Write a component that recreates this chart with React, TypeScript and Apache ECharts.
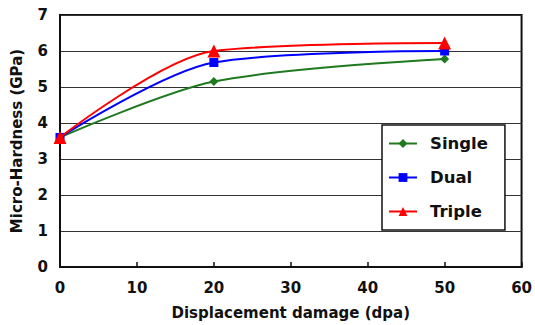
import React, { useEffect, useRef } from "react";
import * as echarts from "echarts";

const xValues = [0, 20, 50];
const singleValues = [3.6, 5.15, 5.78];
const dualValues = [3.6, 5.68, 6.0];
const tripleValues = [3.6, 6.0, 6.22];
const seriesNames = ["Single", "Dual", "Triple"];
const colors = ["#1f7a1f", "#0000ff", "#ff0000"];
const symbols = ["diamond", "rect", "triangle"];
const symbolSizes = [9, 9, 13];

const FONT = "'DejaVu Sans', Verdana, sans-serif";

export default function App() {
  const ref = useRef<HTMLDivElement>(null);
  useEffect(() => {
    if (!ref.current) return;
    const chart = echarts.init(ref.current, undefined, { renderer: "svg" });
    const all = [singleValues, dualValues, tripleValues];
    chart.setOption({
      animation: false,
      backgroundColor: "#fff",
      grid: {
        left: 60,
        top: 15,
        right: 12,
        bottom: 56,
        show: true,
        borderColor: "#111",
        borderWidth: 2,
        backgroundColor: "transparent",
      },
      legend: {
        orient: "vertical",
        left: 382,
        top: 125,
        padding: [10, 17, 10, 6],
        itemGap: 17,
        itemWidth: 28,
        itemHeight: 11,
        borderColor: "#111",
        borderWidth: 1.5,
        borderRadius: 0,
        backgroundColor: "#fff",
        textStyle: {
          fontFamily: FONT,
          fontWeight: "bold",
          fontSize: 16.5,
          color: "#111",
          padding: [0, 0, 0, 8],
          width: 66,
        },
        data: seriesNames,
      },
      xAxis: {
        type: "value",
        min: 0,
        max: 60,
        interval: 10,
        name: "Displacement damage (dpa)",
        nameLocation: "middle",
        nameGap: 38,
        nameTextStyle: { fontFamily: FONT, fontWeight: "bold", fontSize: 15, color: "#111" },
        axisLine: { show: true, lineStyle: { color: "#111", width: 2 } },
        axisTick: { show: true, inside: true, length: 5, lineStyle: { color: "#111", width: 1.5 } },
        axisLabel: { fontFamily: FONT, fontWeight: "bold", fontSize: 15, color: "#111", margin: 13 },
        splitLine: { show: false },
      },
      yAxis: {
        type: "value",
        min: 0,
        max: 7,
        interval: 1,
        name: "Micro-Hardness (GPa)",
        nameLocation: "middle",
        nameGap: 36,
        nameTextStyle: { fontFamily: FONT, fontWeight: "bold", fontSize: 15, color: "#111" },
        axisLine: { show: true, lineStyle: { color: "#111", width: 2 } },
        axisTick: { show: false },
        axisLabel: { fontFamily: FONT, fontWeight: "bold", fontSize: 15, color: "#111", margin: 12 },
        splitLine: { show: true, lineStyle: { color: "#333", width: 1.2 } },
      },
      series: seriesNames.map((name, i) => ({
        name,
        type: "line",
        smooth: 0.3,
        data: xValues.map((x, j) => [x, all[i][j]]),
        symbol: symbols[i],
        symbolSize: symbolSizes[i],
        showAllSymbol: true,
        itemStyle: { color: colors[i] },
        lineStyle: { color: colors[i], width: 2 },
        z: 3 + i,
      })),
    });
    return () => chart.dispose();
  }, []);
  return (
    <div
      ref={ref}
      style={{ position: "fixed", left: 0, top: 0, width: 535, height: 325 }}
    />
  );
}
